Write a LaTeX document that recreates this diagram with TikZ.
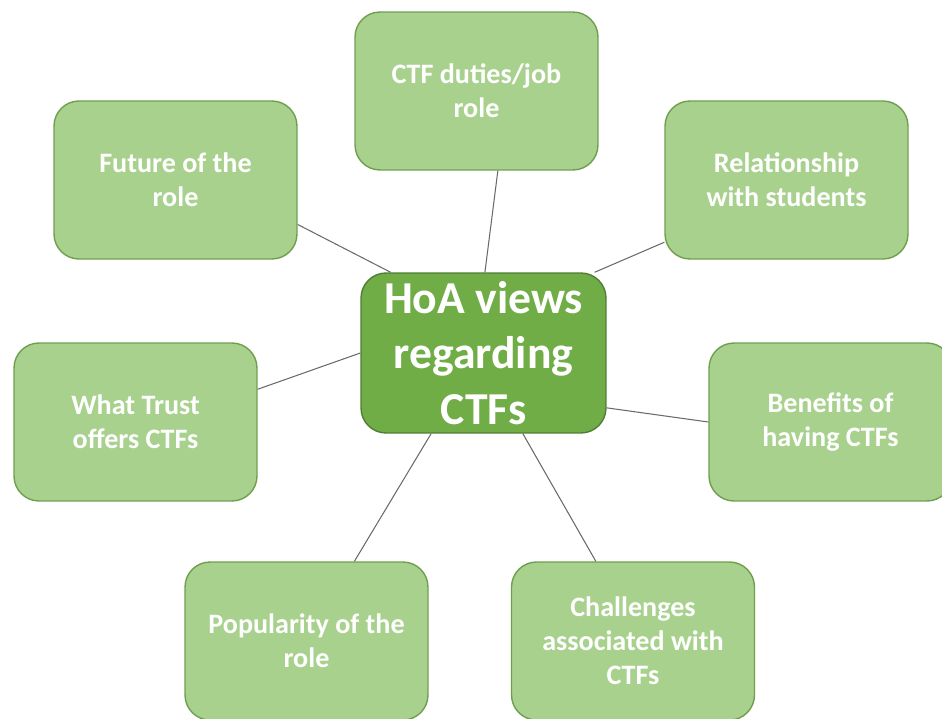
\documentclass[tikz,border=0pt]{standalone}
\usepackage{fontspec}
\setmainfont{Carlito}
\definecolor{leaf}{HTML}{A9D18E}
\definecolor{leafedge}{HTML}{6F9F4E}
\definecolor{hubfill}{HTML}{70AD47}
\definecolor{hubedge}{HTML}{507E32}
\definecolor{linkgray}{HTML}{6A6A6A}

\begin{document}
\begin{tikzpicture}[x=0.02cm,y=-0.02cm,
topic/.style={draw=leafedge,fill=leaf,line width=0.8pt,
  rounded corners=0.5cm,minimum width=4.86cm,minimum height=3.16cm,
  align=center,text=white,font=\bfseries\fontsize{16}{19.3}\selectfont},
hub/.style={draw=hubedge,fill=hubfill,line width=0.8pt,
  rounded corners=0.5cm,minimum width=4.9cm,minimum height=3.2cm,
  align=center,text=white,font=\bfseries\fontsize{26}{31.5}\selectfont},
link/.style={draw=linkgray,line width=0.6pt}]
\useasboundingbox (0,0) rectangle (942,719);
\clip (0,0) rectangle (942,719);
\node[hub] (hoa) at (483.5,353) {HoA views\\regarding\\CTFs};
\node[topic] (duty) at (476.5,91) {CTF duties/job\\role};
\node[topic] (future) at (175.5,180) {Future of the\\role};
\node[topic] (pupils) at (786.5,180) {Relationship\\with students};
\node[topic] (trust) at (135.5,422) {What Trust\\offers CTFs};
\node[topic] (gains) at (830.5,422) {Benefits of\\having CTFs};
\node[topic] (popular) at (306.5,641) {Popularity of the\\role};
\node[topic] (hurdles) at (633,641) {Challenges\\associated with\\CTFs};
% spokes
\path[link]
(hoa.139) edge (future.-20)
(hoa.89) edge (duty.-75.5)
(hoa.36.5) edge (pupils.-153.7)
(hoa.west) edge (trust.15.5)
(hoa.-24.2) edge (gains.west)
(hoa.-123.8) edge (popular.59.7)
(hoa.-64.3) edge (hurdles.115.4);
\end{tikzpicture}
\end{document}
